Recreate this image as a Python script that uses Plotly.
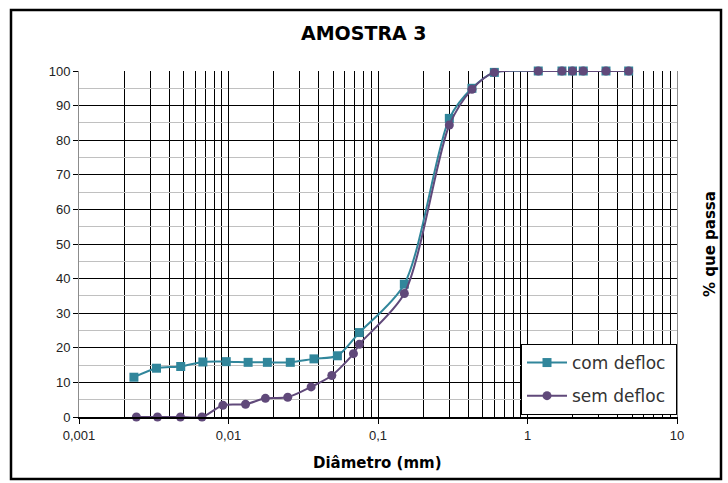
import plotly.graph_objects as go

# ---- data ----
com_diam = [0.00233, 0.0033, 0.00479, 0.00674, 0.00966, 0.01353, 0.0182, 0.0259, 0.0373, 0.0535,
            0.075, 0.15, 0.3, 0.425, 0.6, 1.18, 1.7, 2.0, 2.36, 3.35, 4.75]
com_pass = [11.5, 14.1, 14.6, 15.9, 16.0, 15.8, 15.8, 15.8, 16.8, 17.7,
            24.4, 38.4, 86.3, 95.0, 99.6, 100, 100, 100, 100, 100, 100]

sem_diam = [0.00242, 0.00335, 0.00477, 0.00665, 0.00917, 0.0130, 0.01766, 0.0249, 0.0357, 0.0491, 0.0685,
            0.075, 0.15, 0.3, 0.425, 0.6, 1.18, 1.7, 2.0, 2.36, 3.35, 4.75]
sem_pass = [0, 0, 0, 0, 3.4, 3.7, 5.4, 5.7, 8.7, 12.0, 18.3,
            21.0, 35.7, 84.4, 94.7, 99.6, 100, 100, 100, 100, 100, 100]

x_tickvals = [0.001, 0.01, 0.1, 1, 10]
x_ticktext = ["0,001", "0,01", "0,1", "1", "10"]
y_tickvals = [0, 10, 20, 30, 40, 50, 60, 70, 80, 90, 100]

title_text = "AMOSTRA 3"
x_title = "Diâmetro (mm)"
y_title = "% que passa"
names = ["com defloc", "sem defloc"]

COM = "#31869B"
SEM = "#60497A"
HEAD = "DejaVu Sans"
TICK = "Liberation Sans, Arial"

fig = go.Figure()
fig.add_trace(go.Scatter(
    x=com_diam, y=com_pass, name=names[0] + "\u00a0", mode="lines+markers",
    line=dict(color=COM, width=2, shape="spline", smoothing=0.8),
    marker=dict(symbol="square", size=9, color=COM),
    cliponaxis=False, legendgroup="a"))
fig.add_trace(go.Scatter(
    x=sem_diam, y=sem_pass, name=names[1] + "\u00a0", mode="lines+markers",
    line=dict(color=SEM, width=2, shape="spline", smoothing=0.8),
    marker=dict(symbol="circle", size=9, color=SEM),
    cliponaxis=False, legendgroup="b"))

W, H = 728, 483
L, R, T, B = 79, 677, 71, 417
pw, ph = R - L, B - T

def px(xp):
    return (xp - L) / pw

def py(yp):
    return (B - yp) / ph

fig.update_layout(
    width=W, height=H, autosize=False,
    margin=dict(l=L, r=W - R, t=T, b=H - B, pad=0),
    paper_bgcolor="white", plot_bgcolor="white",
    showlegend=True,
    legend=dict(x=1, y=py(344), xanchor="right", yanchor="top",
                bgcolor="white", bordercolor="black", borderwidth=1,
                font=dict(family=HEAD, size=17, color="#333333"),
                traceorder="grouped", tracegroupgap=8,
                itemwidth=40),
    xaxis=dict(type="log", range=[-3, 1], tickvals=x_tickvals, ticktext=x_ticktext,
               showgrid=True, gridcolor="black", gridwidth=1,
               minor=dict(dtick="D1", showgrid=True, gridcolor="black", gridwidth=1, ticks=""),
               ticks="outside", ticklen=5, tickcolor="black",
               showline=True, linecolor="black", linewidth=2, mirror=False,
               tickfont=dict(family=TICK, size=13, color="#222222"),
               zeroline=False),
    xaxis2=dict(overlaying="x", side="top", showline=True, linecolor="#8c8c8c", linewidth=1,
                showticklabels=False, showgrid=False, ticks="", range=[0, 1], zeroline=False),
    yaxis=dict(range=[0, 100], tickvals=y_tickvals,
               showgrid=True, gridcolor="black", gridwidth=1,
               minor=dict(dtick=5, showgrid=True, gridcolor="#c0c0c0", gridwidth=1, ticks=""),
               ticks="outside", ticklen=5, tickcolor="black",
               showline=True, linecolor="#8c8c8c", linewidth=1, mirror=True,
               tickfont=dict(family=TICK, size=13, color="#222222"),
               zeroline=False),
    shapes=[dict(type="rect", xref="paper", yref="paper",
                 x0=px(11), x1=px(721), y0=py(479), y1=py(10),
                 line=dict(color="black", width=2.5))],
    annotations=[
        dict(text="<b>%s</b>" % title_text, xref="paper", yref="paper",
             x=px(364), y=py(33), showarrow=False, xanchor="center", yanchor="middle",
             font=dict(family=HEAD, size=19, color="#000000")),
        dict(text="<b>%s</b>" % x_title, xref="paper", yref="paper",
             x=px(377), y=py(463), showarrow=False, xanchor="center", yanchor="middle",
             font=dict(family=HEAD, size=15, color="#000000")),
        dict(text="<b>%s</b>" % y_title, xref="paper", yref="paper",
             x=px(710), y=py(244), showarrow=False, xanchor="center", yanchor="middle",
             textangle=-90, font=dict(family=HEAD, size=15, color="#000000")),
    ],
)

fig.write_html("out.html", post_script="document.body.style.margin='0';",
               config={"displayModeBar": False})
